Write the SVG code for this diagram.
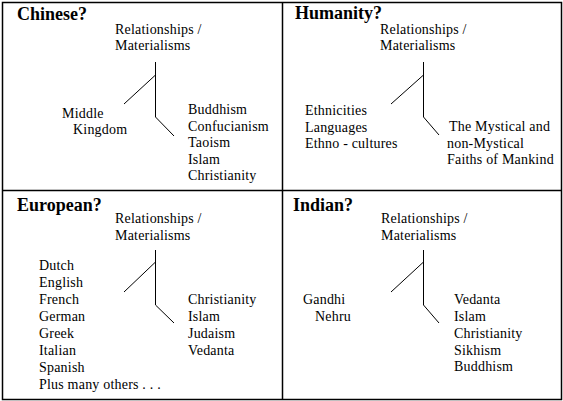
<svg xmlns="http://www.w3.org/2000/svg" width="563" height="401" viewBox="0 0 563 401">
<style>
.frame{fill:none;stroke:#000;stroke-width:1.5}
.ln{fill:none;stroke:#000;stroke-width:1}
.t{font-family:"Liberation Serif","Times New Roman",serif;font-size:14px;letter-spacing:0.2px;fill:#000}
.h{font-family:"Liberation Serif","Times New Roman",serif;font-size:18px;font-weight:bold;fill:#000}
</style>
<rect width="563" height="401" fill="#fff"/>
<g id="frame">
<rect class="frame" x="2.5" y="2.5" width="559" height="397"/>
<line class="frame" x1="282.5" y1="2.5" x2="282.5" y2="399.5"/>
<line class="frame" x1="2.5" y1="190.5" x2="561.5" y2="190.5"/>
</g>
<g id="connectors">
<path class="ln" d="M155.5 62V117L174 136M155.5 75L124 104"/>
<path class="ln" d="M423.5 62V117L439 135M423.5 75L391 104"/>
<path class="ln" d="M155.5 250V305L174 323M155.5 262L124 292"/>
<path class="ln" d="M423.5 250V305L439 323M423.5 262L391 292"/>
</g>
<g id="chinese">
<text class="h" x="17" y="20">Chinese?</text>
<text class="t" x="115" y="34">Relationships /</text>
<text class="t" x="115" y="50">Materialisms</text>
<text class="t" x="62" y="118">Middle</text>
<text class="t" x="73" y="134">Kingdom</text>
<text class="t" x="188" y="114">Buddhism</text>
<text class="t" x="188" y="130.5">Confucianism</text>
<text class="t" x="188" y="147">Taoism</text>
<text class="t" x="188" y="163.5">Islam</text>
<text class="t" x="188" y="180">Christianity</text>
</g>
<g id="humanity">
<text class="h" x="295" y="19">Humanity?</text>
<text class="t" x="380" y="34">Relationships /</text>
<text class="t" x="380" y="50">Materialisms</text>
<text class="t" x="305" y="115">Ethnicities</text>
<text class="t" x="305" y="131.5">Languages</text>
<text class="t" x="305" y="148">Ethno - cultures</text>
<text class="t" x="449" y="131">The Mystical and</text>
<text class="t" x="447" y="147.5">non-Mystical</text>
<text class="t" x="447" y="164">Faiths of Mankind</text>
</g>
<g id="european">
<text class="h" x="17" y="211">European?</text>
<text class="t" x="115" y="223">Relationships /</text>
<text class="t" x="115" y="240">Materialisms</text>
<text class="t" x="39" y="270">Dutch</text>
<text class="t" x="39" y="287">English</text>
<text class="t" x="39" y="304">French</text>
<text class="t" x="39" y="321">German</text>
<text class="t" x="39" y="338">Greek</text>
<text class="t" x="39" y="355">Italian</text>
<text class="t" x="39" y="372">Spanish</text>
<text class="t" x="39" y="389">Plus many others . . .</text>
<text class="t" x="188" y="304">Christianity</text>
<text class="t" x="188" y="321">Islam</text>
<text class="t" x="188" y="338">Judaism</text>
<text class="t" x="188" y="355">Vedanta</text>
</g>
<g id="indian">
<text class="h" x="293" y="211">Indian?</text>
<text class="t" x="381" y="223">Relationships /</text>
<text class="t" x="381" y="240">Materialisms</text>
<text class="t" x="303" y="304">Gandhi</text>
<text class="t" x="315" y="321">Nehru</text>
<text class="t" x="454" y="304">Vedanta</text>
<text class="t" x="454" y="321">Islam</text>
<text class="t" x="454" y="338">Christianity</text>
<text class="t" x="454" y="355">Sikhism</text>
<text class="t" x="454" y="371">Buddhism</text>
</g>
</svg>
